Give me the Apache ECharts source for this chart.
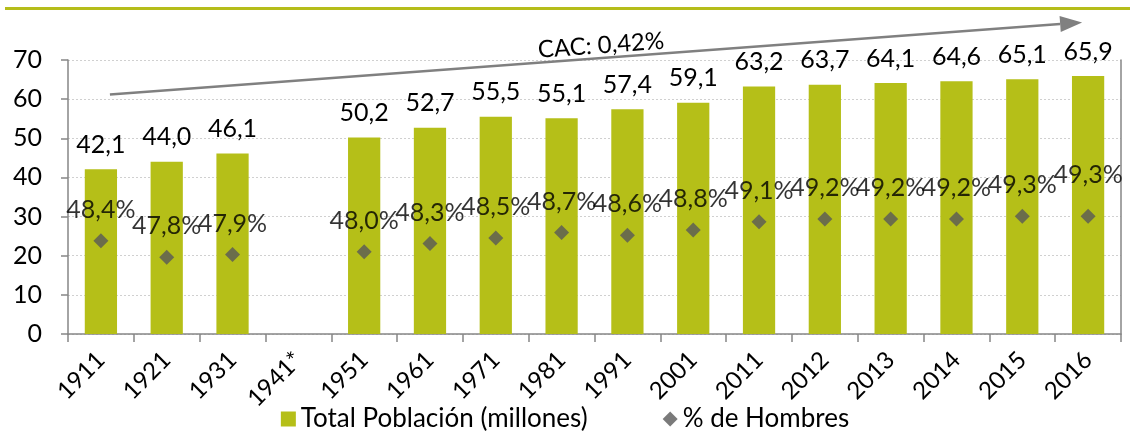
<!DOCTYPE html>
<html lang="es">
<head>
    <meta charset="UTF-8">
    <title>Población total y % de hombres</title>
    <script src="https://cdn.jsdelivr.net/npm/echarts@6/dist/echarts.min.js"></script>
    <style>
        html, body { margin: 0; padding: 0; background: #fff; }
        #main { width: 1130px; height: 431px; }
    </style>
</head>
<body>
<div id="main"></div>
<script>
    // datos del gráfico
    var years = ['1911', '1921', '1931', '1941*', '1951', '1961', '1971', '1981', '1991', '2001', '2011', '2012', '2013', '2014', '2015', '2016'];
    var poblacion = [42.1, 44.0, 46.1, null, 50.2, 52.7, 55.5, 55.1, 57.4, 59.1, 63.2, 63.7, 64.1, 64.6, 65.1, 65.9];
    var hombres = [48.4, 47.8, 47.9, null, 48.0, 48.3, 48.5, 48.7, 48.6, 48.8, 49.1, 49.2, 49.2, 49.2, 49.3, 49.3];
    var yTicks = [0, 10, 20, 30, 40, 50, 60, 70];
    var cacTexto = 'CAC: 0,42%';
    // flecha de tendencia (en coordenadas de datos)
    var flechaInicio = ['1911', 61.2];
    var flechaFin = ['2016', 79.6];

    var fuente = 'Lato';
    var verde = '#b5bf18';
    var gris = '#595959';

    function coma(v, d) {
        return v.toFixed(d).replace('.', ',');
    }

    var hombresData = hombres.map(function (v, i) {
        if (i === hombres.length - 1) {
            return {value: v, label: {offset: [0, -10]}};
        }
        return v;
    });

    var myChart = echarts.init(document.getElementById('main'));

    var option = {
        animation: false,
        textStyle: {fontFamily: fuente},
        grid: {left: 68, right: 9, top: 60, bottom: 97, containLabel: false},
        legend: {
            bottom: -6,
            left: 'center',
            itemWidth: 15,
            itemHeight: 15,
            itemGap: 75,
            textStyle: {fontFamily: fuente, fontSize: 26, color: '#000'},
            data: [
                {name: 'Total Población (millones)', icon: 'rect'},
                {name: '% de Hombres', icon: 'diamond', itemStyle: {color: gris}}
            ]
        },
        xAxis: {
            type: 'category',
            data: years,
            boundaryGap: true,
            axisLine: {lineStyle: {color: '#868686', width: 1.5}},
            axisTick: {show: true, length: 8, lineStyle: {color: '#868686', width: 1.5}},
            axisLabel: {
                rotate: 45,
                margin: 22,
                interval: 0,
                color: '#000',
                fontFamily: fuente,
                fontSize: 24
            }
        },
        yAxis: [{
            type: 'value',
            min: yTicks[0],
            max: yTicks[yTicks.length - 1],
            interval: 10,
            axisLine: {show: true, lineStyle: {color: '#868686', width: 1.5}},
            axisTick: {show: true, length: 7, lineStyle: {color: '#868686', width: 1.5}},
            axisLabel: {color: '#000', fontFamily: fuente, fontSize: 25, margin: 26},
            splitLine: {lineStyle: {color: '#d0d0d0', type: [2, 2], width: 1}}
        }, {
            type: 'value',
            min: 45,
            max: 55,
            position: 'right',
            axisLine: {show: true, lineStyle: {color: '#868686', width: 1.5}},
            axisTick: {show: false},
            axisLabel: {show: false},
            splitLine: {show: false}
        }],
        series: [{
            name: 'Total Población (millones)',
            type: 'bar',
            data: poblacion,
            barWidth: '49%',
            itemStyle: {color: verde},
            label: {
                show: true,
                position: 'top',
                distance: 12,
                color: '#000',
                fontFamily: fuente,
                fontSize: 25,
                formatter: function (p) {
                    return p.value == null ? '' : coma(p.value, 1);
                }
            }
        }, {
            name: '% de Hombres',
            type: 'scatter',
            yAxisIndex: 1,
            data: hombresData,
            symbol: 'diamond',
            symbolSize: 15,
            itemStyle: {color: gris},
            label: {
                show: true,
                position: 'top',
                distance: 11,
                color: '#000',
                fontFamily: fuente,
                fontSize: 25,
                formatter: function (p) {
                    var v = typeof p.value === 'object' ? p.value.value : p.value;
                    return v == null ? '' : coma(v, 1) + '%';
                }
            }
        }]
    };

    myChart.setOption(option);

    // flecha CAC y línea superior
    var a = myChart.convertToPixel({gridIndex: 0}, flechaInicio);
    var b = myChart.convertToPixel({gridIndex: 0}, flechaFin);
    a[0] += 9;
    b[0] -= 6;
    var ang = Math.atan2(b[1] - a[1], b[0] - a[0]);
    var largo = 22, ancho = 8;
    var base = [b[0] - largo * Math.cos(ang), b[1] - largo * Math.sin(ang)];
    var p1 = [base[0] + ancho * Math.sin(ang), base[1] - ancho * Math.cos(ang)];
    var p2 = [base[0] - ancho * Math.sin(ang), base[1] + ancho * Math.cos(ang)];
    var medio = [(a[0] + b[0]) / 2, (a[1] + b[1]) / 2];

    myChart.setOption({
        graphic: [{
            type: 'line',
            shape: {x1: 5, y1: 8.5, x2: 1130, y2: 8.5},
            style: {stroke: '#b5bd1a', lineWidth: 3}
        }, {
            type: 'line',
            shape: {x1: a[0], y1: a[1], x2: base[0], y2: base[1]},
            style: {stroke: '#808080', lineWidth: 2.5}
        }, {
            type: 'polygon',
            shape: {points: [b, p1, p2]},
            style: {fill: '#808080'}
        }, {
            type: 'text',
            x: medio[0] + 5,
            y: medio[1] - 13,
            rotation: -ang,
            style: {
                text: cacTexto,
                font: '24px ' + fuente,
                fill: '#000',
                align: 'center',
                verticalAlign: 'middle'
            }
        }]
    });
</script>
</body>
</html>
